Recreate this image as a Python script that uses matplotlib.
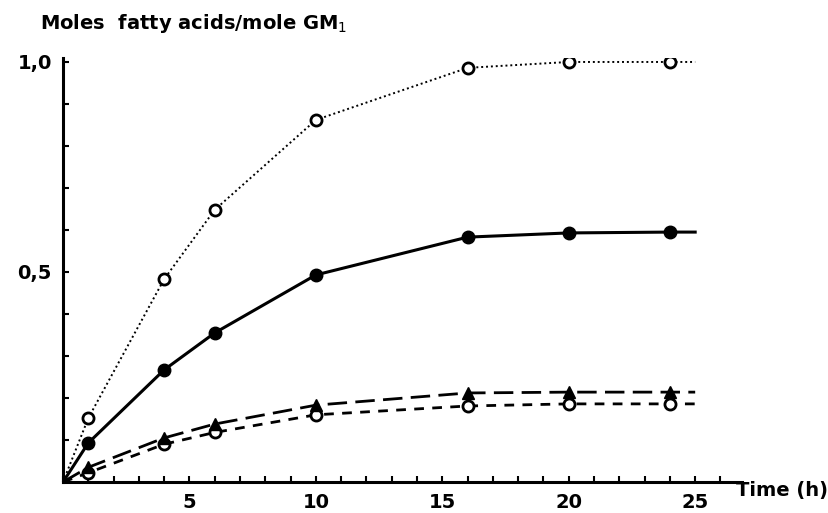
import matplotlib
matplotlib.use("Agg")
import matplotlib.pyplot as plt
from matplotlib.ticker import MultipleLocator

# Data
t = [1, 4, 6, 10, 16, 20, 24]
dotted_open = [0.152, 0.483, 0.648, 0.862, 0.986, 1.0, 1.0]
solid_filled = [0.093, 0.267, 0.355, 0.493, 0.583, 0.593, 0.595]
dash_tri = [0.035, 0.105, 0.138, 0.183, 0.212, 0.214, 0.214]
dash_open = [0.022, 0.090, 0.118, 0.160, 0.181, 0.186, 0.186]
x_ticks = [5, 10, 15, 20, 25]
y_ticks = [0.5, 1.0]
y_tick_labels = ["0,5", "1,0"]

# line extents: from origin to ~25 h
line_t = [0] + t + [25]

fig = plt.figure(figsize=(8.29, 5.13), dpi=100)
ax = fig.add_axes([0.076, 0.0604, 0.819, 0.827])
ax.set_xlim(0, 26.85)
ax.set_ylim(0, 1.01)

def ext(v):
    return [0] + v + [v[-1]]

ax.plot(line_t, ext(dotted_open), color="black", lw=1.4, linestyle=(0, (1, 1.5)))
ax.plot(line_t, ext(solid_filled), color="black", lw=2.2, linestyle="-")
ax.plot(line_t, ext(dash_tri), color="black", lw=2.0, linestyle=(0, (7, 3)))
ax.plot(line_t, ext(dash_open), color="black", lw=2.0, linestyle=(0, (3.5, 3)))

ax.plot(t, dotted_open, linestyle="none", marker="o", ms=8, mfc="white", mec="black", mew=2)
ax.plot(t, solid_filled, linestyle="none", marker="o", ms=9, mfc="black", mec="black")
ax.plot(t, dash_open, linestyle="none", marker="o", ms=8, mfc="white", mec="black", mew=2)
ax.plot(t, dash_tri, linestyle="none", marker="^", ms=8, mfc="black", mec="black")

for s in ["top", "right"]:
    ax.spines[s].set_visible(False)
ax.spines["left"].set_linewidth(2.2)
ax.spines["bottom"].set_linewidth(2.2)

ax.set_xticks(x_ticks)
ax.set_xticklabels([str(v) for v in x_ticks], fontsize=14, fontweight="bold")
ax.xaxis.set_minor_locator(MultipleLocator(1))
ax.set_yticks(y_ticks)
ax.set_yticklabels(y_tick_labels, fontsize=14, fontweight="bold")
ax.yaxis.set_minor_locator(MultipleLocator(0.1))
ax.tick_params(axis="both", which="both", direction="in", length=4, width=1.5, pad=8)

fig.text(0.048, 0.955, "Moles  fatty acids/mole GM$_1$", fontsize=14, fontweight="bold",
         ha="left", va="center")
fig.text(0.888, 0.044, "Time (h)", fontsize=14, fontweight="bold", ha="left", va="center")

fig.savefig("out.png", dpi=100)
